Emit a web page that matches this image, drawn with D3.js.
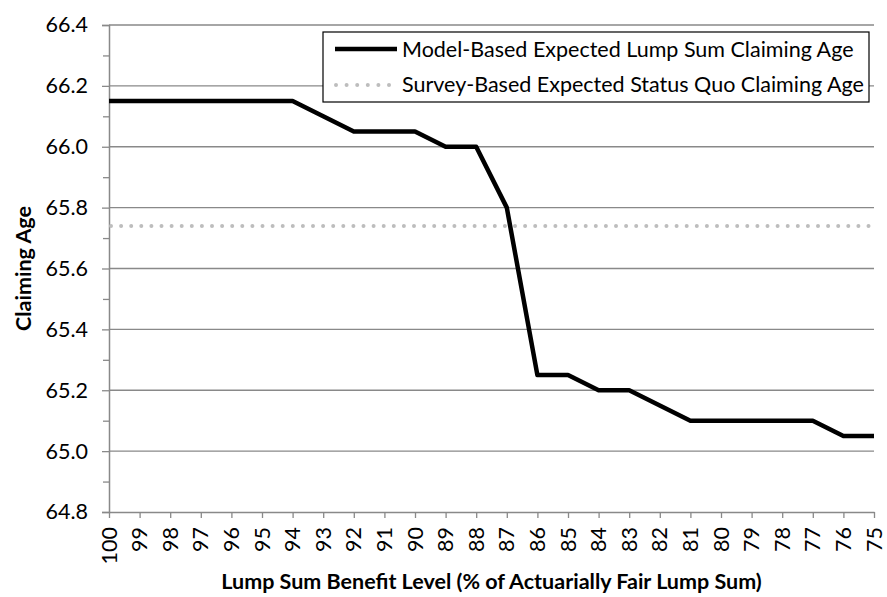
<!DOCTYPE html>
<html>
<head>
<meta charset="utf-8">
<script src="https://cdn.jsdelivr.net/npm/d3@7"></script>
<style>
  body { margin: 0; background: #fff; }
  text { font-family: Lato, "Liberation Sans", sans-serif; fill: #000; }
</style>
</head>
<body>
<div id="chart"></div>
<script>
// benefit levels, 100 down to 75
const levels = [100, 99, 98, 97, 96, 95, 94, 93, 92, 91, 90, 89, 88, 87, 86, 85, 84, 83, 82, 81, 80, 79, 78, 77, 76, 75];
const modelAge = [66.15, 66.15, 66.15, 66.15, 66.15, 66.15, 66.15, 66.10, 66.05, 66.05, 66.05, 66.00, 66.00, 65.80, 65.25, 65.25, 65.20, 65.20, 65.15, 65.10, 65.10, 65.10, 65.10, 65.10, 65.05, 65.05];
const surveyAge = 65.74;
const yTicks = [64.8, 65.0, 65.2, 65.4, 65.6, 65.8, 66.0, 66.2, 66.4];
const yMinorTicks = [64.9, 65.1, 65.3, 65.5, 65.7, 65.9, 66.1, 66.3];
const legendLabels = ['Model-Based Expected Lump Sum Claiming Age', 'Survey-Based Expected Status Quo Claiming Age'];

const W = 887, H = 597;
const margin = { top: 25, right: 13, bottom: 85, left: 109 };
const width = W - margin.left - margin.right;
const height = H - margin.top - margin.bottom;
const fontSize = '21.5px';

const svg = d3.select('#chart').append('svg')
  .attr('width', W).attr('height', H);
const g = svg.append('g')
  .attr('transform', `translate(${margin.left},${margin.top})`);

const x = d3.scalePoint().domain(levels).range([0, width]);
const y = d3.scaleLinear().domain([64.8, 66.4]).range([height, 0]);

const axisColor = '#898989';

// gridlines
g.append('g')
  .selectAll('line')
  .data(yTicks.slice(1))
  .enter().append('line')
  .attr('x1', 0).attr('x2', width)
  .attr('y1', d => y(d)).attr('y2', d => y(d))
  .attr('stroke', axisColor).attr('stroke-width', 1.3);

// minor ticks on y
const yMinor = g.append('g')
  .call(d3.axisLeft(y).tickValues(yMinorTicks).tickSize(6).tickFormat(''));
yMinor.select('.domain').remove();
yMinor.selectAll('line').attr('stroke', axisColor).attr('stroke-width', 1.3);

// y axis
const yAxis = g.append('g')
  .call(d3.axisLeft(y).tickValues(yTicks).tickSize(7).tickPadding(14).tickFormat(d3.format('.1f')));
yAxis.select('.domain').attr('stroke', axisColor).attr('stroke-width', 1.5);
yAxis.selectAll('line').attr('stroke', axisColor).attr('stroke-width', 1.3);
yAxis.selectAll('text').style('font-size', fontSize);

// x axis
const xAxis = g.append('g')
  .attr('transform', `translate(0,${height})`)
  .call(d3.axisBottom(x).tickSize(6).tickSizeOuter(0));
xAxis.select('.domain').attr('stroke', axisColor).attr('stroke-width', 1.5);
xAxis.selectAll('line').attr('stroke', axisColor).attr('stroke-width', 1.3);
xAxis.selectAll('text')
  .style('font-size', fontSize)
  .attr('text-anchor', 'end')
  .attr('dy', '0.33em')
  .attr('transform', 'rotate(-90)')
  .attr('x', -15).attr('y', 0);

// survey line (dotted)
g.append('line')
  .attr('x1', 2).attr('x2', width)
  .attr('y1', y(surveyAge)).attr('y2', y(surveyAge))
  .attr('stroke', '#bdbdbd').attr('stroke-width', 4)
  .attr('stroke-linecap', 'round')
  .attr('stroke-dasharray', '0 10.1');

// model line
g.append('path')
  .datum(levels.map((d, i) => [d, modelAge[i]]))
  .attr('fill', 'none')
  .attr('stroke', '#000').attr('stroke-width', 4.5)
  .attr('stroke-linejoin', 'round')
  .attr('d', d3.line().x(d => x(d[0])).y(d => y(d[1])));

// legend
const lg = svg.append('g').attr('transform', 'translate(323,32)');
lg.append('rect')
  .attr('width', 546).attr('height', 70)
  .attr('fill', '#fff').attr('stroke', '#000').attr('stroke-width', 1.2);
lg.append('line')
  .attr('x1', 12).attr('x2', 74).attr('y1', 17).attr('y2', 17)
  .attr('stroke', '#000').attr('stroke-width', 4.5);
lg.append('line')
  .attr('x1', 13).attr('x2', 74).attr('y1', 53).attr('y2', 53)
  .attr('stroke', '#bdbdbd').attr('stroke-width', 4)
  .attr('stroke-linecap', 'round').attr('stroke-dasharray', '0 10.6');
lg.selectAll('.lbl')
  .data(legendLabels)
  .enter().append('text')
  .attr('x', 79).attr('y', (d, i) => 17 + i * 35)
  .attr('dy', '0.35em')
  .style('font-size', fontSize)
  .text(d => d);

// axis titles
svg.append('text')
  .attr('x', margin.left + width / 2).attr('y', 589)
  .attr('text-anchor', 'middle')
  .style('font-size', fontSize).style('font-weight', 'bold')
  .text('Lump Sum Benefit Level (% of Actuarially Fair Lump Sum)');
svg.append('text')
  .attr('transform', `translate(31,${margin.top + height / 2}) rotate(-90)`)
  .attr('text-anchor', 'middle')
  .style('font-size', fontSize).style('font-weight', 'bold')
  .text('Claiming Age');
</script>
</body>
</html>
